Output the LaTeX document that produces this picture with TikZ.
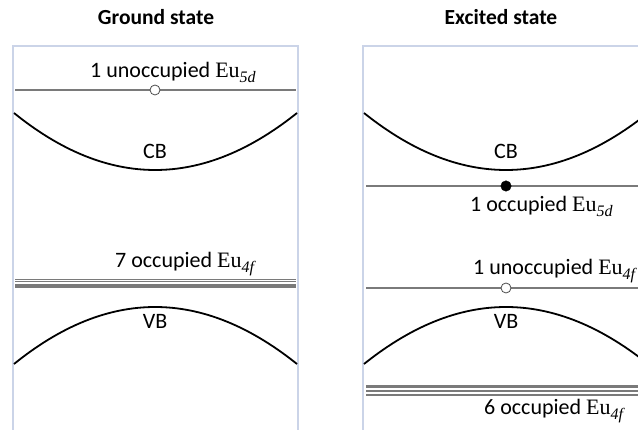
\documentclass[tikz,border=0pt]{standalone}
\usepackage[no-math]{fontspec}
\setmainfont{Carlito}
\newfontfamily\eufont{Liberation Serif}
\newcommand\EuSub[1]{{\eufont Eu\raisebox{-0.22em}{\fontsize{16}{16}\selectfont\itshape #1}}}
\begin{document}
\begin{tikzpicture}[x=1pt,y=-1pt,
  panel/.style={draw=boxblue,line width=2.6pt},
  level/.style={draw=levgray,line width=1.1pt},
  stackline/.style={draw=levgray,line width=1.1pt},
  band/.style={draw=black,line width=1.8pt},
  lbl/.style={font=\fontsize{22}{26}\selectfont,inner sep=0pt,anchor=base},
  lblw/.style={lbl,anchor=base west},
  ttl/.style={font=\fontsize{21.5}{26}\selectfont\bfseries,inner sep=0pt,anchor=base},
  hole/.style={circle,draw=black!70,fill=white,line width=0.8pt,minimum size=10pt,inner sep=0pt},
  elec/.style={circle,draw=black,fill=black,minimum size=10.5pt,inner sep=0pt}]
\definecolor{boxblue}{HTML}{CBD4E8}
\definecolor{levgray}{HTML}{7A7A7A}
\useasboundingbox (0,0) rectangle (638,430);
\clip (0,0) rectangle (638,430);
% ---------- Ground state ----------
\node[ttl] (t1) at (156,25) {Ground state};
\draw[panel] (13,46) rectangle (298,431);
\coordinate (g5l) at (15,90); \coordinate (g5r) at (296,90);
\draw[level] (g5l) -- (g5r);
\node[hole] (gh) at (155,90) {};
\node[lblw] (g5t) at (90,78) {1 unoccupied \EuSub{5d}};
\coordinate (gcl) at (14,113); \coordinate (gcr) at (297,113);
\draw[band] (gcl) .. controls (108,189) and (202,189) .. (gcr);
\node[lbl] (gcb) at (155,159) {CB};
\node[lblw] (g4t) at (115,268) {7 occupied \EuSub{4f}};
\foreach \yy [count=\i] in {279.8,281.6,285,287}{
  \coordinate (gsl\i) at (15,\yy); \coordinate (gsr\i) at (296,\yy);
  \draw[stackline] (gsl\i) -- (gsr\i);}
\coordinate (gvl) at (14,364); \coordinate (gvr) at (297,364);
\draw[band] (gvl) .. controls (108,288) and (202,288) .. (gvr);
\node[lbl] (gvb) at (155,329) {VB};
% ---------- Excited state ----------
\node[ttl] (t2) at (501,25) {Excited state};
\draw[panel] (363,46) rectangle (660,431);
\coordinate (ecl) at (364,113); \coordinate (ecr) at (648,113);
\draw[band] (ecl) .. controls (459,189) and (553,189) .. (ecr);
\node[lbl] (ecb) at (506,159) {CB};
\coordinate (e5l) at (366,186); \coordinate (e5r) at (640,186);
\draw[level] (e5l) -- (e5r);
\node[elec] (ee) at (506,186) {};
\node[lblw] (e5t) at (470,212) {1 occupied \EuSub{5d}};
\node[lblw] (e4u) at (473,275) {1 unoccupied \EuSub{4f}};
\coordinate (e4l) at (366,288); \coordinate (e4r) at (640,288);
\draw[level] (e4l) -- (e4r);
\node[hole] (eh) at (506,288) {};
\coordinate (evl) at (364,364); \coordinate (evr) at (648,364);
\draw[band] (evl) .. controls (459,288) and (553,288) .. (evr);
\node[lbl] (evb) at (506,329) {VB};
\foreach \yy [count=\i] in {385.5,387,391,395}{
  \coordinate (esl\i) at (366,\yy); \coordinate (esr\i) at (640,\yy);
  \draw[stackline] (esl\i) -- (esr\i);}
\node[lblw] (e4t) at (484,415) {6 occupied \EuSub{4f}};
\end{tikzpicture}
\end{document}
